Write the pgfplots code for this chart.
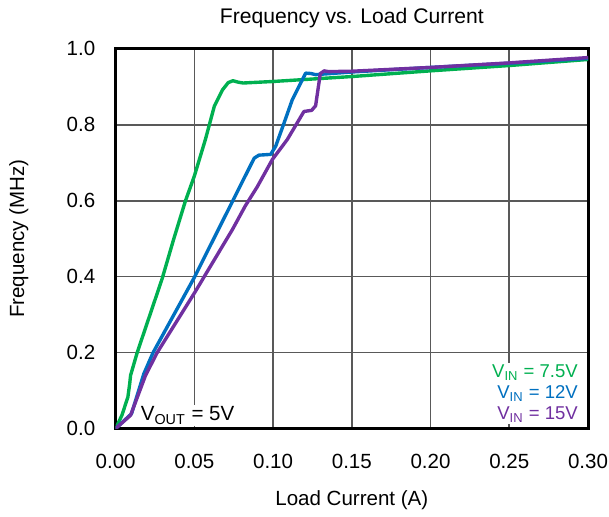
\documentclass[border=0pt]{standalone}
\usepackage{pgfplots}
\pgfplotsset{compat=1.18}
\usepackage{fontspec}
\setmainfont{Liberation Sans}

\definecolor{vgreen}{RGB}{0,176,80}
\definecolor{vblue}{RGB}{0,112,192}
\definecolor{vpurple}{RGB}{112,48,160}

\begin{document}
\fontsize{10.3}{12.4}\selectfont
\begin{tikzpicture}
\begin{axis}[
  scale only axis,
  width=237pt, height=190.5pt,
  xmin=0, xmax=0.30, ymin=0, ymax=1.0,
  xtick={0,0.05,...,0.30}, ytick={0,0.2,...,1.0},
  x tick label style={/pgf/number format/fixed, /pgf/number format/fixed zerofill,
    /pgf/number format/precision=2, inner sep=0.5pt, yshift=-12pt},
  y tick label style={/pgf/number format/fixed, /pgf/number format/fixed zerofill,
    /pgf/number format/precision=1, inner sep=0.5pt, xshift=-9.5pt},
  /pgf/number format/assume math mode=true,
  major tick length=0pt,
  grid=major,
  major grid style={line width=0.8pt, black!65},
  axis line style={line width=1.5pt, black},
  title={\fontsize{10.6}{12.7}\selectfont Frequency vs. Load Current},
  title style={at={(axis description cs:0.5,1)}, anchor=center, yshift=9.4pt},
  xlabel={Load Current (A)},
  xlabel style={at={(axis description cs:0.5,0)}, anchor=center, yshift=-35.8pt},
  ylabel={Frequency (MHz)},
  ylabel style={at={(axis description cs:0,0.5)}, anchor=center, yshift=48.5pt},
  every axis plot/.append style={line width=1.7pt, line join=round, line cap=round},
]
% VIN = 7.5V
\addplot[vgreen] coordinates {
(0,0) (0.004,0.035) (0.0078,0.083) (0.009,0.12) (0.0095,0.14) (0.0137,0.2)
(0.0295,0.394) (0.0369,0.499) (0.0443,0.599) (0.05,0.665)
(0.057,0.761) (0.0627,0.849) (0.0679,0.892) (0.0715,0.911) (0.0745,0.916)
(0.078,0.912) (0.081,0.910) (0.10,0.914) (0.15,0.927) (0.20,0.942)
(0.25,0.956) (0.30,0.972)};
% VIN = 12V
\addplot[vblue] coordinates {
(0,0) (0.0101,0.039) (0.0179,0.144) (0.0238,0.2) (0.0500,0.398)
(0.0743,0.599) (0.0823,0.665) (0.088,0.712) (0.091,0.72)
(0.0985,0.722) (0.1017,0.744) (0.107,0.805) (0.1122,0.866) (0.1207,0.936)
(0.124,0.935) (0.127,0.932) (0.15,0.939) (0.20,0.951) (0.25,0.962) (0.30,0.975)};
% VIN = 15V
\addplot[vpurple] coordinates {
(0,0) (0.0095,0.035) (0.019,0.14) (0.0264,0.2) (0.0505,0.36)
(0.0743,0.525) (0.0823,0.586) (0.09,0.637) (0.0996,0.709) (0.109,0.761)
(0.1196,0.835) (0.1245,0.838) (0.127,0.85) (0.13,0.935) (0.1325,0.942)
(0.135,0.94) (0.15,0.941) (0.20,0.951) (0.25,0.963) (0.30,0.977)};

\node[anchor=south west, fill=white, inner sep=1pt] at (axis cs:0.0145,0.005)
  {V\textsubscript{OUT} = 5V};
\node[anchor=south east, fill=white, inner sep=1pt, align=right,
      font=\fontsize{9.3}{10.5}\selectfont] at (axis cs:0.295,0.01)
  {\textcolor{vgreen}{V\textsubscript{IN} = 7.5V}\\
   \textcolor{vblue}{V\textsubscript{IN} = 12V}\\
   \textcolor{vpurple}{V\textsubscript{IN} = 15V}};
\end{axis}
\path (-58pt,-43pt) rectangle (246.5pt,215pt);
\end{tikzpicture}
\end{document}
